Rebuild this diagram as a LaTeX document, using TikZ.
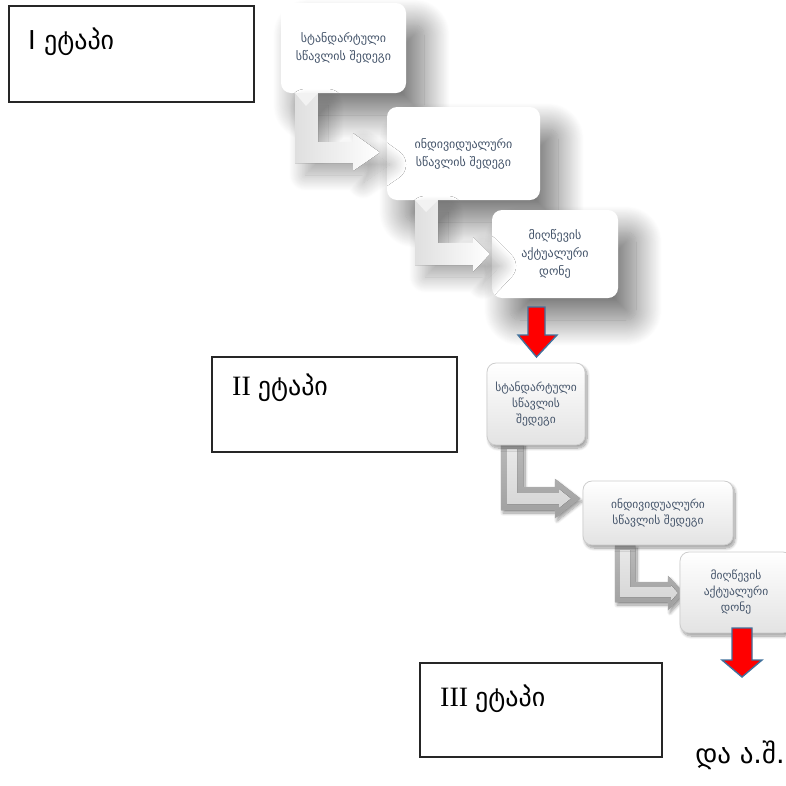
\documentclass[tikz,border=0pt]{standalone}
\usepackage{fontspec}
\setmainfont{Liberation Serif}
\newfontfamily\geo{DejaVu Sans}
\usetikzlibrary{shadows.blur}
\definecolor{txt}{HTML}{44546A}
\definecolor{arrline}{HTML}{41719C}
\tikzset{
  softbox/.style={rectangle, rounded corners=10pt, fill=white, draw=none,
    blur shadow={shadow xshift=18pt, shadow yshift=-22pt, shadow blur radius=26pt, shadow blur steps=30, shadow opacity=55},
    align=center, text=txt, font=\geo\fontsize{12}{18}\selectfont, inner sep=2pt},
  glossbox/.style={rectangle, rounded corners=9pt, top color=white, bottom color=gray!22,
    draw=gray!40, line width=0.8pt,
    blur shadow={shadow xshift=2pt, shadow yshift=-3pt, shadow blur radius=3pt, shadow blur steps=10, shadow opacity=40},
    align=center, text=txt, font=\geo\fontsize{11.5}{16}\selectfont, inner sep=2pt},
  labelbox/.style={draw=black!85, line width=1.1pt, fill=white},
  labeltext/.style={anchor=west, inner sep=0pt},
  softarrow/.style={left color=gray!25, right color=white, draw=none,
    blur shadow={shadow xshift=10pt, shadow yshift=-12pt, shadow blur radius=16pt, shadow blur steps=20, shadow opacity=35}},
  glossarrow/.style={top color=gray!55, bottom color=gray!75, draw=gray!60, line width=0.4pt,
    blur shadow={shadow xshift=2pt, shadow yshift=-3pt, shadow blur radius=3pt, shadow blur steps=10, shadow opacity=40}},
  glossinner/.style={top color=gray!18, bottom color=gray!32, draw=none},
  redarrow/.style={fill=red, draw=arrline, line width=1.4pt, line join=miter}
}
\begin{document}
\begin{tikzpicture}[x=1pt, y=-1pt]
\useasboundingbox (0,0) rectangle (786,785);

% ---------- Stage labels ----------
\draw[labelbox] (9,6) rectangle (254,102);
\node[labeltext, font=\geo\fontsize{26}{30}\selectfont] (l1) at (28,42) {I ეტაპი};
\draw[labelbox] (212,357) rectangle (457,452);
\node[labeltext, font=\fontsize{28}{32}\selectfont] (l2) at (232,388) {II {\geo\fontsize{26}{30}\selectfont ეტაპი}};
\draw[labelbox] (420,663) rectangle (662,757);
\node[labeltext, font=\fontsize{28}{32}\selectfont] (l3) at (440,699) {III {\geo\fontsize{26}{30}\selectfont ეტაპი}};
\node[font=\geo\fontsize{27}{32}\selectfont] (etc) at (740,755) {და ა.შ.};

% ---------- Stage 1 ----------
\node[softbox, minimum width=125pt, minimum height=90pt] (a1) at (343.5,48) {სტანდარტული\\სწავლის შედეგი};
\node[softbox, minimum width=153pt, minimum height=93pt] (a2) at (463.5,153.5) {ინდივიდუალური\\სწავლის შედეგი};
\node[softbox, minimum width=126pt, minimum height=88pt] (a3) at (555,254) {მიღწევის\\აქტუალური\\დონე};

\fill[softarrow] (295,93) -- (318,93) -- (318,142) -- (353,142) -- (353,133) -- (380,152.5) -- (353,171) -- (353,163) -- (295,163) -- cycle;
\fill[white!90!gray] (295,93) -- (306,106) -- (318,93) -- cycle;
\fill[softarrow] (415,200) -- (438,200) -- (438,243) -- (473,243) -- (473,237) -- (490,254) -- (473,272) -- (473,265) -- (415,265) -- cycle;
\fill[white!90!gray] (415,200) -- (426,212) -- (438,200) -- cycle;

\draw[redarrow] (528,307) -- (545,307) -- (545,335) -- (557,335) -- (536.5,357) -- (518,335) -- (528,335) -- cycle;

% ---------- Stage 2 ----------
\fill[glossarrow] (501,443) -- (523,443) -- (523,487) -- (555,487) -- (555,479) -- (580,498.5) -- (555,518) -- (555,510) -- (501,510) -- cycle;
\fill[glossinner] (507,449) -- (517,449) -- (517,493) -- (559,493) -- (559,489) -- (571,498.5) -- (559,508) -- (559,504) -- (507,504) -- cycle;
\fill[glossarrow] (615,545) -- (635,545) -- (635,582) -- (668,582) -- (668,576) -- (684,593) -- (668,610) -- (668,602) -- (615,602) -- cycle;
\fill[glossinner] (620,550) -- (630,550) -- (630,587) -- (671,587) -- (671,585) -- (678,593) -- (671,601) -- (671,597) -- (620,597) -- cycle;

\node[glossbox, minimum width=98pt, minimum height=82pt] (b1) at (536,404) {სტანდარტული\\სწავლის\\შედეგი};
\node[glossbox, minimum width=150pt, minimum height=64pt] (b2) at (658,513) {ინდივიდუალური\\სწავლის შედეგი};
\node[glossbox, minimum width=112pt, minimum height=81pt] (b3) at (736,592.5) {მიღწევის\\აქტუალური\\დონე};

\draw[redarrow] (732,628) -- (752,628) -- (752,660) -- (762,660) -- (742,677) -- (722,660) -- (732,660) -- cycle;
\end{tikzpicture}
\end{document}
